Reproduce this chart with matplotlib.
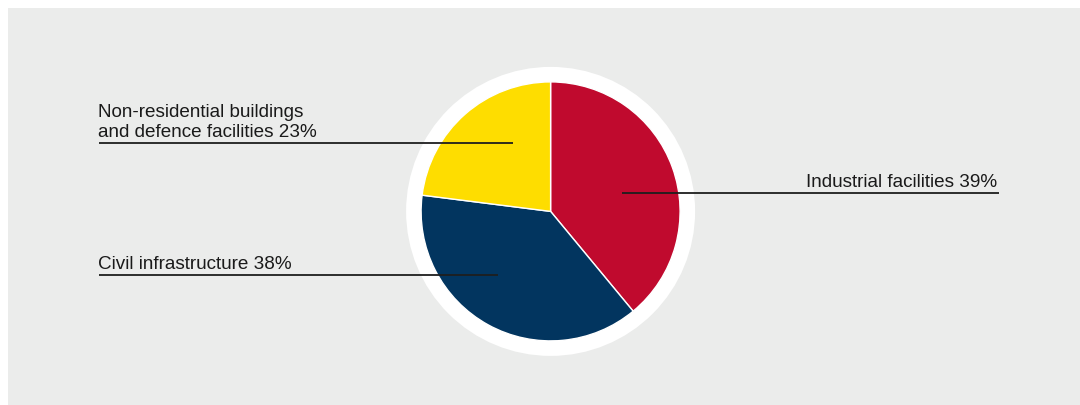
import matplotlib
matplotlib.use("Agg")
import matplotlib.pyplot as plt
from matplotlib.patches import Rectangle, Circle

# Data
categories = ["Industrial facilities", "Civil infrastructure",
              "Non-residential buildings\nand defence facilities"]
shares = [39, 38, 23]
colors = ["#C00A2E", "#02355F", "#FEDD00"]

W, H = 1080, 405
fig = plt.figure(figsize=(W / 100, H / 100), dpi=100)
fig.patch.set_facecolor("white")
ax = fig.add_axes([0, 0, 1, 1])
ax.set_xlim(0, W)
ax.set_ylim(0, H)
ax.set_aspect("equal")
ax.axis("off")

def Y(yp):
    return H - yp

# background panel
ax.add_patch(Rectangle((8, 0), W - 8, H - 8, facecolor="#EBECEB", edgecolor="none", zorder=0))

cx, cy = 550.6, Y(211.4)
ax.add_patch(Circle((cx, cy), 144.5, facecolor="white", edgecolor="none", zorder=1))

wedges, _ = ax.pie(shares, colors=colors, startangle=90, counterclock=False,
                   center=(cx, cy), radius=129.5,
                   wedgeprops=dict(edgecolor="white", linewidth=1.0))
for w in wedges:
    w.set_zorder(2)
ax.set_xlim(0, W)
ax.set_ylim(0, H)

font = dict(family=["Liberation Sans", "DejaVu Sans"], fontsize=13.6, color="#1a1a1a")
lc = "#1e1e1e"
lw = 1.3

# Industrial facilities (right)
ax.plot([622, 999], [Y(192.7), Y(192.7)], color=lc, lw=lw, zorder=3, solid_capstyle="butt")
ax.text(997.5, Y(186.8), f"{categories[0]} {shares[0]}%", ha="right", va="baseline", zorder=3, **font)

# Civil infrastructure (left bottom)
ax.plot([99, 498], [Y(275), Y(275)], color=lc, lw=lw, zorder=3, solid_capstyle="butt")
ax.text(97.5, Y(269), f"{categories[1]} {shares[1]}%", ha="left", va="baseline", zorder=3, **font)

# Non-residential (left top)
ax.plot([99, 513], [Y(143.3), Y(143.3)], color=lc, lw=lw, zorder=3, solid_capstyle="butt")
ax.text(97.5, Y(136.7), f"{categories[2]} {shares[2]}%", ha="left", va="baseline",
        linespacing=1.19, zorder=3, **font)

fig.savefig("out.png", dpi=100, facecolor=fig.get_facecolor())
